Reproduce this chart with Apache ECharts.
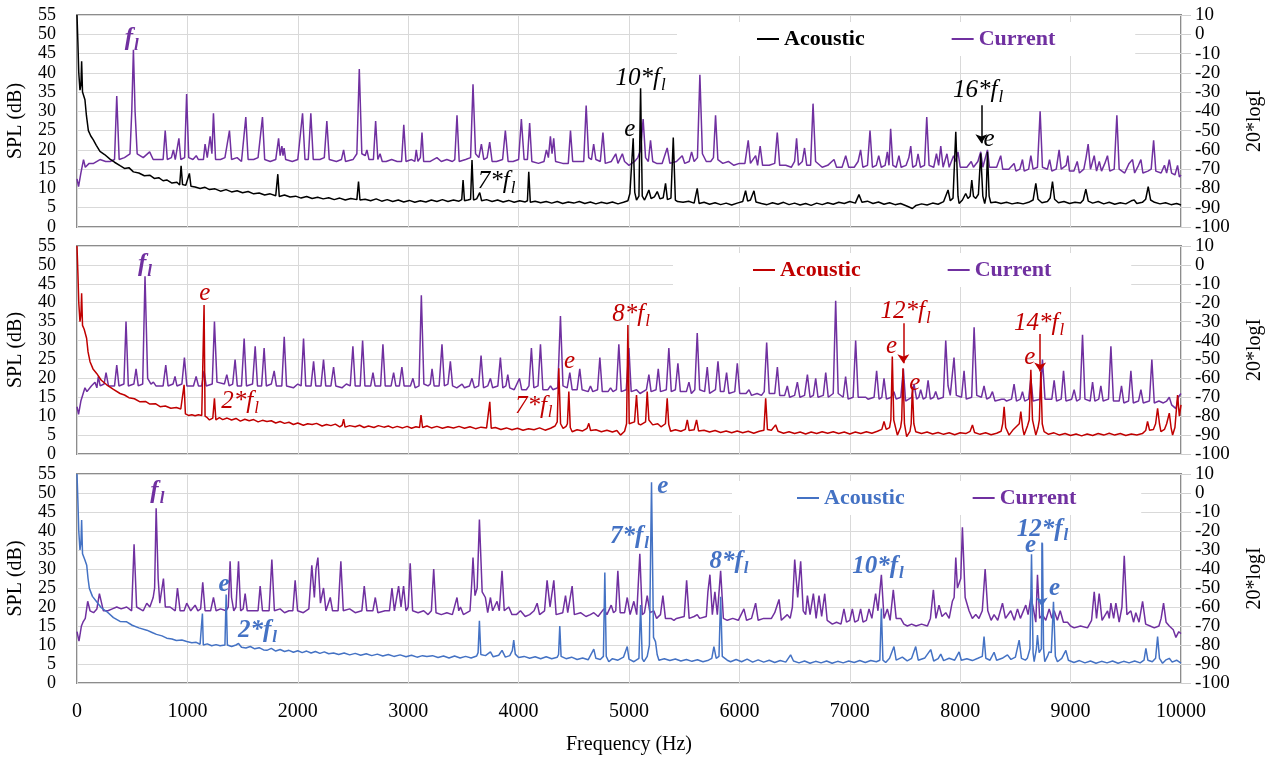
<!DOCTYPE html>
<html>
<head>
<meta charset="utf-8">
<title>Acoustic / current spectra</title>
<script src="https://cdn.jsdelivr.net/npm/echarts@6/dist/echarts.min.js"></script>
<style>
  html, body { margin: 0; padding: 0; background: #fff; }
  #main { width: 1278px; height: 757px; }
</style>
</head>
<body>
<div id="main"></div>
<script>
// acoustic spectra, SPL in dB (left axis)  [frequency Hz, dB]
var acoustic1 = [[0,55],[8,48],[16,40],[27,35.5],[36,37],[42,43],[50,35],[60,34.5],[72,33],[85,29],[103,25],[125,23.6],[148,22.6],[175,21.2],[208,19.6],[250,18.8],[299,17.6],[340,16.8],[390,15.9],[430,15.2],[470,15.4],[511,14.3],[560,14],[610,13.3],[662,13.4],[700,12.6],[740,12.8],[780,12],[813,12.2],[860,11.4],[905,11.6],[930,10.9],[943,15.9],[956,11],[985,10.8],[1018,13.9],[1032,10.6],[1070,10.4],[1115,10],[1160,10.3],[1200,9.7],[1250,9.9],[1300,9.3],[1350,9.7],[1400,9.1],[1450,9.4],[1500,8.9],[1550,9.2],[1600,8.6],[1650,8.8],[1700,8.3],[1750,8.6],[1800,8.1],[1819,13.7],[1832,7.9],[1880,8.3],[1930,7.8],[1980,8],[2030,7.5],[2080,7.9],[2130,7.4],[2180,7.7],[2230,7.3],[2280,7.6],[2330,7.1],[2380,7.5],[2430,7],[2480,7.4],[2535,7.1],[2550,11.8],[2563,7],[2610,7.2],[2660,6.8],[2710,7.3],[2760,6.7],[2810,7.1],[2860,6.6],[2910,7],[2960,6.5],[3010,6.9],[3060,6.4],[3110,6.8],[3160,6.5],[3210,7],[3260,6.6],[3310,7.1],[3360,6.6],[3410,7],[3460,6.7],[3485,7.1],[3497,12.2],[3510,6.8],[3540,7],[3565,7.2],[3578,17.4],[3592,7],[3620,7.3],[3648,8.9],[3665,6.8],[3710,7.1],[3760,6.6],[3810,7],[3860,6.5],[3910,6.9],[3960,6.4],[4010,6.8],[4060,6.5],[4080,6.8],[4092,14.3],[4106,6.4],[4150,6.7],[4200,6.3],[4250,6.6],[4300,6.2],[4350,6.6],[4400,6.1],[4450,6.5],[4500,6.2],[4550,6.6],[4600,6.1],[4650,6.5],[4700,6],[4750,6.4],[4800,6.1],[4850,6.5],[4900,6],[4950,6.4],[4990,6.8],[5008,8.7],[5024,9],[5038,23],[5052,9],[5068,7],[5090,8],[5105,36],[5120,8],[5141,7],[5160,8.2],[5180,9.6],[5200,7.4],[5230,7.8],[5256,9.2],[5280,7.3],[5310,7.6],[5331,11.3],[5348,7.1],[5380,7.5],[5401,23.2],[5420,7],[5440,6.6],[5490,6.4],[5540,6.7],[5590,6.2],[5618,10],[5635,6.1],[5680,6.4],[5730,5.9],[5780,6.3],[5830,5.8],[5880,6.2],[5930,5.7],[5980,6.2],[6030,6.6],[6056,9.4],[6075,6.7],[6100,7],[6132,9.4],[6150,6.5],[6200,6.1],[6250,5.8],[6300,6.3],[6350,5.9],[6400,6.4],[6450,5.8],[6500,6.2],[6550,5.7],[6600,6.1],[6650,5.6],[6700,6.2],[6750,5.8],[6800,6.3],[6850,5.9],[6900,6.4],[6950,6.1],[7000,6.6],[7050,6.2],[7083,8.4],[7110,6.4],[7160,6.7],[7210,6.1],[7260,6.5],[7310,5.9],[7360,6.3],[7410,5.8],[7460,6.1],[7510,5.5],[7567,4.8],[7600,5.6],[7650,6],[7700,5.7],[7750,6.2],[7800,5.9],[7850,6.6],[7890,9.6],[7910,6.8],[7935,7.5],[7960,24.7],[7980,8],[7990,6.1],[8020,7],[8050,8.7],[8070,7.4],[8090,8],[8105,12.2],[8120,8],[8141,7.4],[8165,8.5],[8186,19.1],[8205,8],[8222,6.1],[8235,8],[8247,19.5],[8262,8],[8277,6.3],[8320,6.5],[8370,6.1],[8420,6.4],[8470,6],[8520,6.3],[8570,6],[8620,6.4],[8660,7],[8685,11.3],[8705,7.2],[8740,6.3],[8790,6.6],[8815,7.5],[8836,11.8],[8855,7.2],[8890,6.3],[8940,6.6],[8990,6.1],[9040,6.4],[9090,6.2],[9115,7],[9138,9.8],[9160,6.7],[9200,6.2],[9250,6.6],[9300,6],[9350,6.4],[9400,5.9],[9450,6.3],[9500,6],[9550,6.8],[9576,7],[9600,6.1],[9650,6.4],[9680,7.2],[9703,10.5],[9725,7],[9760,6.4],[9810,6],[9860,6.3],[9910,5.8],[9960,6.1],[10000,5.7]];

var acoustic2 = [[0,55],[8,48],[16,40],[27,35],[36,37],[42,42.5],[50,34],[65,33],[87,30.6],[100,27],[118,24.4],[145,22.5],[178,21.3],[220,19.5],[269,18.3],[330,17.1],[390,16],[430,15.6],[470,14.9],[520,14.6],[571,13.8],[620,13.9],[660,13.2],[710,13.3],[753,12.5],[800,12.7],[850,12.1],[900,12.3],[940,11.9],[958,12],[970,18.3],[982,10.6],[1010,10.2],[1040,10.4],[1070,10.1],[1100,10.4],[1130,10.2],[1143,10.5],[1151,39.4],[1160,10],[1180,9.6],[1200,9],[1230,9.5],[1245,14.7],[1258,9],[1290,9.6],[1320,9.1],[1360,9.5],[1400,9],[1440,9.4],[1480,8.7],[1520,9.2],[1560,8.8],[1600,9.1],[1640,8.5],[1680,8.9],[1720,8.6],[1760,8.8],[1800,8.2],[1840,8.6],[1880,8.1],[1920,8.4],[1960,7.8],[2000,8.2],[2050,7.6],[2090,8],[2130,7.8],[2170,8.1],[2220,7.4],[2260,7.8],[2300,7.5],[2340,7.9],[2380,7.2],[2402,7.6],[2415,9.2],[2428,7.1],[2470,7.5],[2520,7.2],[2560,7.6],[2600,7],[2640,7.4],[2690,7],[2730,7.5],[2780,7.1],[2820,7.4],[2860,6.9],[2900,7.3],[2950,6.9],[2990,7.3],[3030,6.8],[3070,7.2],[3103,7],[3116,10.3],[3130,7],[3170,7.4],[3210,6.9],[3260,7.3],[3310,6.8],[3360,7.2],[3410,6.9],[3460,7.3],[3510,6.8],[3560,7.2],[3610,6.7],[3660,7.1],[3710,6.9],[3726,7.3],[3739,13.8],[3752,6.8],[3790,7],[3840,6.5],[3890,6.9],[3940,6.4],[3990,6.8],[4040,6.3],[4090,6.7],[4140,6.4],[4190,6.9],[4240,6.3],[4290,6.8],[4330,7.4],[4350,8.5],[4364,22.7],[4380,8],[4403,6.8],[4430,7.3],[4442,8],[4455,16.5],[4468,7],[4485,5.9],[4530,6.4],[4580,6.1],[4620,6.8],[4636,8.1],[4652,6.2],[4700,6.4],[4750,5.9],[4800,6.3],[4850,5.8],[4890,6.2],[4923,5],[4960,6],[4978,8],[4990,34.1],[5002,8],[5020,7.7],[5050,8.5],[5068,15.6],[5085,8],[5105,7.7],[5150,8.5],[5165,16.5],[5180,9],[5195,9.4],[5215,7.7],[5260,8],[5290,7.2],[5330,8],[5346,14.7],[5360,7.8],[5377,6],[5420,6.4],[5470,6],[5510,6.5],[5528,9],[5545,6.2],[5590,6.4],[5612,9],[5630,6.1],[5680,6.3],[5730,5.8],[5780,6.2],[5830,5.7],[5880,6.1],[5930,5.6],[5980,6.1],[6030,5.6],[6080,6],[6130,5.5],[6180,6],[6222,6.3],[6238,14.7],[6254,6.5],[6290,6.3],[6328,7.7],[6350,6],[6400,5.5],[6450,5.9],[6500,5.4],[6550,5.8],[6600,5.3],[6650,5.8],[6700,5.4],[6750,5.9],[6800,5.5],[6850,5.9],[6900,5.4],[6950,5.8],[7000,5.3],[7050,5.8],[7100,5.4],[7150,5.9],[7200,5.5],[7250,6],[7290,6.5],[7310,8.6],[7330,6.5],[7360,7],[7372,9],[7385,25.8],[7398,9],[7431,5],[7460,7],[7470,9],[7482,22.7],[7495,8],[7515,4.6],[7545,6],[7556,8],[7567,17.8],[7580,8],[7597,5.9],[7650,5.4],[7700,5.8],[7750,5.3],[7800,5.7],[7850,5.2],[7900,5.6],[7950,5.1],[8000,5.6],[8050,5.4],[8090,6],[8111,7.7],[8130,5.7],[8180,5.2],[8230,5.6],[8280,5.1],[8330,5.5],[8370,6],[8385,8],[8398,12.5],[8412,7],[8443,5],[8482,6.5],[8500,6],[8535,8],[8549,11.2],[8565,7],[8579,5],[8610,7.5],[8625,9],[8640,22.3],[8655,9],[8685,5],[8705,7],[8717,9],[8730,21.8],[8743,8],[8760,5.9],[8800,5.2],[8850,5.6],[8900,5],[8950,5.4],[9000,4.9],[9050,5.3],[9100,4.8],[9150,5.3],[9200,4.9],[9250,5.4],[9300,5],[9350,5.5],[9400,5],[9450,5.4],[9500,4.9],[9550,5.3],[9600,5],[9650,5.4],[9680,6.2],[9697,8.6],[9715,6.3],[9750,6.5],[9770,8],[9788,12.1],[9805,8],[9818,5.9],[9850,6.5],[9870,8],[9894,10.8],[9910,7],[9924,5],[9945,7],[9969,15.6],[9985,10],[10000,13]];

var acoustic3 = [[0,55],[8,48],[16,40],[27,35],[36,37],[42,42.9],[50,34],[57,34],[70,32.5],[88,31],[100,27.5],[112,24.9],[140,22.8],[178,21.4],[220,19.8],[269,18.8],[330,17.2],[390,16.2],[450,16.1],[500,15.2],[560,14.5],[632,13.9],[680,13.3],[720,12.8],[770,12.4],[813,11.8],[860,11.6],[900,11.2],[950,11.3],[994,10.9],[1040,10.6],[1080,10.7],[1115,10.2],[1128,10.5],[1136,18.3],[1144,10],[1180,10.3],[1220,9.8],[1260,10.1],[1296,9.8],[1340,10],[1351,23.3],[1362,10],[1400,9.6],[1440,10],[1463,10.4],[1490,9.4],[1530,9.2],[1570,9.6],[1610,9],[1650,9.3],[1690,8.7],[1720,8.6],[1760,9.1],[1800,8.4],[1840,8.8],[1880,8.3],[1920,8.6],[1960,8.1],[2000,8.5],[2040,8],[2080,8.4],[2120,7.9],[2160,8.3],[2200,7.8],[2240,8.2],[2280,7.7],[2324,7.9],[2370,7.5],[2420,7.9],[2470,7.4],[2520,7.8],[2570,7.3],[2620,7.7],[2670,7.2],[2720,7.6],[2770,7.1],[2820,7.5],[2870,7],[2927,7.4],[2980,6.9],[3030,7.3],[3080,6.8],[3130,7.2],[3169,7],[3220,7.2],[3270,6.7],[3320,7.1],[3370,6.6],[3420,7.1],[3470,6.6],[3520,7],[3570,6.6],[3620,7.1],[3633,8],[3645,16.4],[3658,7.5],[3700,7.2],[3745,8.2],[3770,6.9],[3820,7.3],[3850,8.6],[3880,6.8],[3920,7.2],[3943,8.5],[3956,11.3],[3970,7.6],[4000,6.7],[4050,7],[4100,6.5],[4150,6.9],[4200,6.4],[4250,6.9],[4300,6.4],[4350,6.8],[4362,7.5],[4373,15],[4385,7],[4430,6.4],[4480,6.8],[4530,6.2],[4580,6.6],[4630,6.1],[4681,8.9],[4700,6.5],[4740,6.2],[4768,7],[4781,29.1],[4794,7],[4817,5.6],[4850,6.4],[4900,6],[4950,6.8],[4984,9.6],[5000,6.3],[5044,5.6],[5090,6.5],[5105,20.5],[5120,6.4],[5135,5.6],[5165,7],[5185,10],[5204,52.8],[5222,12],[5240,10.9],[5255,7.5],[5271,6],[5320,6.4],[5370,5.9],[5420,6.3],[5470,5.8],[5520,6.2],[5570,5.7],[5620,6.1],[5670,5.6],[5720,6],[5750,6.5],[5769,9.6],[5790,6.5],[5815,7],[5830,22.7],[5845,7],[5860,7.4],[5890,6],[5920,5.6],[5970,6.2],[6020,5.6],[6070,6.3],[6120,5.5],[6170,6.1],[6220,5.5],[6270,6],[6320,5.4],[6370,5.9],[6420,5.5],[6464,7.4],[6490,5.8],[6540,5.3],[6590,5.8],[6640,5.2],[6690,5.7],[6740,5.3],[6790,5.8],[6840,5.2],[6890,5.7],[6940,5.3],[6990,5.8],[7040,5.4],[7090,5.9],[7140,5.4],[7190,5.9],[7240,5.6],[7272,6],[7286,19.6],[7300,6],[7325,5.4],[7360,6.5],[7400,9.6],[7420,6],[7476,6.8],[7520,5.8],[7560,6.5],[7597,9.6],[7620,6],[7680,6.6],[7733,8.8],[7760,5.8],[7800,6.4],[7824,7.6],[7850,5.9],[7900,6.5],[7950,6],[7990,8.2],[8010,6],[8060,6.4],[8110,5.9],[8160,6.5],[8200,7],[8216,12.2],[8232,6.5],[8270,6],[8307,8.1],[8330,6],[8380,6.5],[8428,7.4],[8460,6.2],[8500,6.8],[8534,11.3],[8555,6.5],[8590,6],[8609,6.6],[8632,9],[8646,33.9],[8660,8],[8670,5.6],[8690,9],[8700,12.6],[8715,8],[8735,9],[8745,36.8],[8755,9],[8766,5.6],[8790,7],[8806,8.2],[8825,8],[8845,21.4],[8862,7],[8881,5.6],[8920,6.5],[8957,8.6],[8980,6],[9030,5.4],[9080,5.9],[9130,5.3],[9180,5.8],[9230,5.2],[9280,5.7],[9330,5.3],[9380,5.8],[9430,5.2],[9480,5.7],[9530,5.3],[9580,5.8],[9630,5.3],[9665,6],[9682,9.1],[9700,6],[9740,5.6],[9770,6.5],[9788,12.2],[9805,6.5],[9833,5.2],[9860,6],[9894,6.5],[9920,5.5],[9960,6],[10000,5.2]];

// current spectra, 20*logI (right axis)  [frequency Hz, 20*logI]
var current1 = [[0,-75],[14,-79],[35,-72],[59,-65],[75,-69],[110,-67],[150,-67],[208,-65],[260,-66],[300,-66],[340,-65],[360,-32],[382,-65],[430,-64],[480,-62],[496,-40],[511,-8],[526,-40],[545,-62],[600,-64],[658,-61],[690,-65],[740,-65],[780,-65],[799,-50],[818,-65],[855,-64],[873,-60],[890,-65],[923,-54],[940,-65],[975,-64],[993,-31],[1012,-64],[1050,-65],[1080,-63],[1100,-65],[1145,-65],[1160,-57],[1180,-64],[1206,-53],[1222,-62],[1236,-41],[1255,-65],[1300,-65],[1340,-64],[1381,-50],[1400,-65],[1450,-64],[1490,-66],[1529,-43],[1550,-65],[1600,-65],[1640,-64],[1680,-43],[1700,-65],[1750,-66],[1800,-65],[1826,-54],[1840,-63],[1856,-58],[1866,-63],[1876,-59],[1890,-65],[1950,-66],[2000,-65],[2043,-41],[2065,-65],[2095,-65],[2118,-41],[2140,-65],[2200,-65],[2240,-64],[2263,-45],[2285,-65],[2350,-66],[2395,-65],[2415,-60],[2432,-66],[2500,-65],[2535,-62],[2557,-18],[2580,-62],[2610,-63],[2626,-60],[2645,-65],[2685,-65],[2705,-45],[2725,-65],[2745,-62],[2765,-66],[2800,-66],[2850,-65],[2900,-66],[2940,-66],[2960,-47],[2980,-66],[3030,-65],[3060,-66],[3073,-60],[3088,-66],[3110,-64],[3125,-51],[3140,-66],[3200,-66],[3260,-64],[3300,-66],[3350,-65],[3400,-66],[3422,-65],[3442,-42],[3462,-66],[3520,-65],[3565,-64],[3587,-26],[3610,-62],[3640,-64],[3663,-57],[3685,-65],[3715,-64],[3738,-56],[3760,-66],[3800,-66],[3855,-65],[3880,-50],[3905,-66],[3950,-66],[4000,-65],[4025,-44],[4050,-65],[4080,-65],[4100,-46],[4120,-66],[4180,-67],[4230,-66],[4252,-60],[4270,-64],[4288,-53],[4303,-62],[4318,-54],[4335,-66],[4400,-67],[4450,-67],[4470,-50],[4490,-66],[4540,-66],[4590,-66],[4612,-37],[4635,-64],[4660,-65],[4680,-57],[4700,-65],[4740,-66],[4764,-51],[4785,-67],[4840,-66],[4880,-62],[4900,-67],[4940,-62],[4960,-66],[5000,-68],[5050,-66],[5080,-64],[5105,-60],[5128,-44],[5150,-64],[5175,-66],[5195,-55],[5215,-66],[5250,-67],[5300,-67],[5346,-59],[5370,-67],[5430,-66],[5482,-63],[5505,-67],[5545,-66],[5567,-61],[5590,-66],[5620,-64],[5642,-21],[5665,-62],[5700,-66],[5740,-66],[5765,-64],[5784,-42],[5805,-65],[5850,-67],[5900,-66],[5950,-68],[6000,-67],[6050,-67],[6080,-55],[6100,-67],[6147,-63],[6165,-68],[6188,-58],[6210,-68],[6270,-68],[6320,-67],[6343,-51],[6365,-68],[6420,-68],[6470,-69],[6500,-66],[6518,-54],[6535,-68],[6570,-66],[6590,-59],[6610,-68],[6645,-68],[6667,-36],[6690,-66],[6750,-69],[6800,-68],[6857,-65],[6880,-69],[6930,-69],[6963,-63],[6990,-69],[7040,-69],[7075,-66],[7098,-60],[7118,-69],[7160,-68],[7183,-50],[7205,-69],[7240,-68],[7262,-63],[7285,-69],[7320,-68],[7340,-61],[7355,-68],[7370,-49],[7390,-68],[7420,-69],[7445,-63],[7465,-69],[7510,-68],[7535,-64],[7552,-58],[7570,-69],[7600,-68],[7618,-62],[7640,-69],[7677,-68],[7697,-43],[7718,-68],[7760,-69],[7785,-62],[7805,-68],[7824,-58],[7845,-69],[7880,-62],[7900,-69],[7940,-63],[7960,-66],[7980,-61],[8000,-69],[8060,-69],[8100,-66],[8120,-69],[8160,-66],[8186,-61],[8205,-69],[8247,-60],[8265,-69],[8330,-69],[8367,-63],[8385,-70],[8440,-70],[8488,-67],[8505,-71],[8540,-70],[8564,-65],[8580,-71],[8620,-70],[8640,-63],[8660,-70],[8700,-69],[8724,-40],[8745,-69],[8790,-70],[8810,-65],[8830,-71],[8870,-70],[8896,-60],[8915,-70],[8960,-68],[8975,-63],[8990,-71],[9030,-71],[9060,-66],[9080,-72],[9120,-70],[9140,-64],[9159,-57],[9180,-70],[9214,-63],[9235,-71],[9260,-66],[9280,-71],[9310,-67],[9334,-63],[9355,-71],[9395,-70],[9419,-42],[9440,-70],[9490,-72],[9530,-67],[9561,-65],[9580,-72],[9615,-68],[9637,-65],[9655,-72],[9700,-71],[9730,-70],[9752,-55],[9772,-71],[9820,-72],[9850,-68],[9870,-72],[9894,-65],[9915,-72],[9945,-73],[9969,-68],[9985,-74],[10000,-73]];

var current2 = [[0,-75],[14,-79],[35,-72],[72,-65],[90,-67],[130,-64],[163,-62],[180,-65],[193,-59],[210,-64],[245,-63],[263,-57],[285,-64],[340,-64],[360,-53],[380,-64],[425,-63],[444,-30],[465,-64],[515,-63],[535,-55],[555,-64],[595,-63],[616,-6],[640,-60],[670,-63],[692,-62],[715,-64],[780,-64],[804,-53],[825,-64],[870,-63],[888,-59],[905,-64],[950,-63],[973,-49],[995,-64],[1055,-64],[1079,-59],[1100,-64],[1130,-64],[1151,-56],[1170,-64],[1225,-63],[1245,-30],[1268,-62],[1335,-63],[1357,-58],[1378,-64],[1410,-63],[1432,-50],[1452,-64],[1490,-64],[1514,-39],[1535,-64],[1590,-63],[1614,-43],[1635,-64],[1672,-64],[1695,-44],[1715,-64],[1760,-63],[1786,-56],[1806,-64],[1855,-64],[1877,-38],[1898,-64],[1960,-65],[2000,-63],[2030,-64],[2052,-39],[2072,-64],[2120,-64],[2143,-51],[2163,-64],[2210,-64],[2233,-50],[2253,-64],[2300,-64],[2324,-54],[2344,-64],[2400,-65],[2440,-63],[2475,-64],[2499,-43],[2520,-64],[2565,-64],[2587,-40],[2608,-64],[2660,-64],[2681,-57],[2700,-64],[2750,-64],[2771,-42],[2792,-64],[2845,-64],[2868,-57],[2888,-64],[2920,-64],[2943,-54],[2963,-64],[3020,-64],[3043,-60],[3063,-65],[3098,-64],[3119,-16],[3142,-63],[3180,-64],[3200,-63],[3216,-55],[3235,-64],[3280,-64],[3306,-42],[3328,-64],[3360,-63],[3382,-51],[3402,-64],[3440,-65],[3488,-63],[3510,-65],[3555,-64],[3578,-60],[3600,-65],[3638,-64],[3660,-48],[3682,-65],[3720,-64],[3745,-60],[3765,-65],[3812,-64],[3835,-49],[3857,-65],[3885,-64],[3902,-58],[3920,-65],[3960,-66],[4008,-60],[4028,-66],[4070,-66],[4094,-64],[4116,-44],[4138,-65],[4176,-64],[4198,-42],[4220,-66],[4265,-66],[4289,-64],[4310,-66],[4355,-65],[4379,-27],[4402,-64],[4440,-65],[4464,-57],[4485,-66],[4530,-66],[4554,-55],[4575,-66],[4630,-67],[4651,-64],[4672,-67],[4715,-66],[4736,-49],[4758,-67],[4810,-67],[4833,-65],[4855,-67],[4886,-66],[4908,-42],[4930,-67],[4975,-66],[4999,-44],[5020,-67],[5068,-66],[5100,-68],[5158,-66],[5180,-58],[5200,-67],[5245,-66],[5265,-55],[5285,-67],[5338,-66],[5361,-44],[5383,-67],[5420,-66],[5443,-52],[5465,-67],[5520,-67],[5543,-62],[5565,-68],[5596,-66],[5618,-36],[5640,-66],[5685,-67],[5709,-54],[5730,-68],[5783,-66],[5806,-51],[5828,-67],[5860,-67],[5884,-57],[5905,-68],[5958,-67],[5981,-52],[6003,-68],[6060,-68],[6087,-66],[6110,-69],[6160,-68],[6200,-69],[6225,-67],[6247,-41],[6270,-68],[6320,-68],[6344,-54],[6365,-69],[6410,-69],[6434,-64],[6455,-70],[6500,-69],[6525,-62],[6548,-70],[6590,-69],[6616,-58],[6640,-70],[6670,-69],[6691,-60],[6712,-70],[6760,-69],[6782,-57],[6805,-70],[6850,-68],[6872,-19],[6895,-68],[6940,-70],[6962,-59],[6985,-71],[7030,-70],[7053,-40],[7076,-70],[7120,-70],[7144,-70],[7165,-71],[7220,-70],[7243,-56],[7265,-71],[7290,-70],[7310,-60],[7332,-71],[7375,-70],[7400,-67],[7420,-71],[7462,-70],[7485,-55],[7505,-72],[7560,-70],[7582,-63],[7605,-71],[7625,-70],[7642,-66],[7665,-71],[7690,-70],[7709,-61],[7730,-71],[7760,-70],[7778,-67],[7800,-71],[7847,-70],[7869,-40],[7890,-64],[7910,-69],[7944,-49],[7965,-69],[8012,-70],[8035,-56],[8055,-71],[8104,-70],[8126,-33],[8150,-69],[8192,-70],[8216,-64],[8240,-71],[8270,-70],[8292,-67],[8315,-72],[8375,-71],[8398,-71],[8420,-72],[8465,-71],[8488,-63],[8510,-72],[8545,-71],[8564,-67],[8585,-72],[8620,-71],[8640,-60],[8660,-72],[8722,-71],[8745,-50],[8768,-71],[8830,-71],[8851,-61],[8873,-72],[8915,-71],[8936,-56],[8958,-72],[9010,-71],[9032,-66],[9055,-72],[9085,-71],[9108,-37],[9130,-71],[9177,-72],[9199,-62],[9220,-72],[9255,-71],[9274,-64],[9295,-72],[9343,-71],[9365,-43],[9388,-72],[9440,-72],[9461,-64],[9482,-73],[9525,-72],[9546,-56],[9568,-73],[9615,-72],[9637,-66],[9658,-73],[9714,-72],[9736,-50],[9758,-73],[9800,-72],[9818,-71],[9840,-73],[9870,-72],[9894,-70],[9915,-74],[9954,-76],[9975,-70],[10000,-68]];

var current3 = [[0,-73],[18,-78],[40,-70],[54,-68],[75,-66],[97,-57],[118,-62],[150,-63],[180,-61],[203,-53],[239,-62],[280,-62],[320,-61],[360,-60],[400,-61],[450,-60],[495,-62],[517,-27],[540,-60],[556,-59],[600,-62],[632,-58],[660,-60],[690,-55],[703,-50],[717,-8],[735,-45],[750,-58],[783,-45],[800,-60],[843,-60],[890,-62],[910,-50],[934,-62],[970,-62],[994,-58],[1030,-62],[1070,-59],[1095,-62],[1120,-61],[1139,-47],[1160,-62],[1210,-62],[1236,-55],[1260,-62],[1300,-61],[1350,-62],[1370,-60],[1387,-36],[1400,-55],[1420,-62],[1440,-60],[1463,-36],[1482,-62],[1505,-61],[1523,-53],[1542,-62],[1600,-62],[1640,-62],[1659,-49],[1680,-62],[1740,-62],[1765,-35],[1788,-62],[1840,-61],[1880,-63],[1920,-62],[1955,-62],[1976,-46],[1998,-62],[2050,-63],[2100,-61],[2127,-38],[2150,-55],[2165,-40],[2182,-34],[2205,-58],[2233,-50],[2255,-62],[2294,-55],[2315,-62],[2365,-62],[2390,-36],[2412,-62],[2470,-61],[2520,-63],[2580,-62],[2602,-49],[2625,-62],[2680,-62],[2702,-55],[2725,-63],[2790,-62],[2830,-62],[2853,-50],[2875,-62],[2913,-49],[2935,-60],[2958,-49],[2980,-62],[3000,-60],[3018,-37],[3040,-62],[3090,-63],[3140,-62],[3180,-64],[3210,-62],[3231,-40],[3252,-63],[3300,-64],[3350,-63],[3400,-64],[3442,-55],[3458,-62],[3473,-60],[3500,-64],[3560,-62],[3575,-48],[3587,-34],[3605,-54],[3625,-50],[3645,-14],[3670,-52],[3699,-55],[3720,-63],[3745,-55],[3765,-62],[3805,-57],[3825,-62],[3850,-41],[3870,-62],[3911,-60],[3940,-64],[3980,-64],[4017,-62],[4060,-65],[4100,-64],[4140,-62],[4168,-58],[4190,-64],[4235,-62],[4258,-46],[4285,-60],[4319,-46],[4340,-64],[4400,-63],[4425,-54],[4445,-63],[4485,-49],[4505,-64],[4561,-63],[4610,-65],[4650,-64],[4681,-63],[4720,-65],[4772,-61],[4800,-64],[4839,-59],[4860,-63],[4880,-62],[4899,-41],[4920,-63],[4960,-63],[4984,-55],[5010,-64],[5044,-57],[5070,-64],[5098,-32],[5120,-64],[5140,-63],[5165,-54],[5190,-63],[5225,-62],[5250,-66],[5285,-64],[5307,-54],[5330,-66],[5380,-66],[5407,-67],[5430,-66],[5500,-65],[5522,-46],[5545,-66],[5590,-65],[5618,-64],[5640,-66],[5700,-65],[5715,-52],[5733,-43],[5755,-64],[5778,-52],[5800,-64],[5830,-41],[5855,-66],[5890,-67],[5940,-66],[5990,-67],[6041,-61],[6065,-67],[6110,-66],[6147,-58],[6170,-67],[6220,-66],[6253,-66],[6290,-66],[6320,-63],[6359,-56],[6380,-67],[6434,-64],[6460,-66],[6480,-60],[6501,-35],[6528,-55],[6555,-36],[6578,-62],[6600,-64],[6616,-54],[6640,-64],[6670,-53],[6695,-66],[6721,-54],[6745,-65],[6773,-53],[6795,-67],[6842,-69],[6880,-68],[6920,-69],[6947,-61],[6970,-68],[7000,-67],[7023,-61],[7045,-68],[7075,-67],[7098,-61],[7120,-68],[7150,-67],[7174,-61],[7200,-66],[7234,-53],[7255,-62],[7286,-43],[7310,-66],[7340,-61],[7365,-67],[7394,-51],[7420,-66],[7461,-66],[7490,-69],[7521,-70],[7560,-69],[7600,-70],[7650,-69],[7703,-70],[7730,-66],[7757,-51],[7780,-66],[7808,-59],[7835,-65],[7869,-63],[7900,-66],[7929,-57],[7945,-55],[7960,-34],[7975,-50],[7990,-50],[8005,-45],[8020,-18],[8045,-55],[8080,-62],[8110,-66],[8141,-64],[8170,-66],[8200,-62],[8226,-40],[8250,-62],[8280,-67],[8307,-64],[8340,-67],[8383,-58],[8410,-66],[8458,-62],[8490,-67],[8519,-61],[8545,-66],[8594,-59],[8615,-64],[8640,-55],[8660,-60],[8685,-68],[8700,-43],[8720,-66],[8745,-64],[8775,-67],[8806,-61],[8830,-66],[8851,-62],[8880,-67],[8906,-62],[8935,-68],[8972,-68],[9000,-70],[9032,-71],[9090,-70],[9153,-71],[9190,-67],[9214,-52],[9235,-66],[9259,-53],[9285,-67],[9335,-62],[9350,-66],[9365,-58],[9390,-66],[9410,-58],[9440,-68],[9465,-60],[9486,-33],[9510,-64],[9546,-62],[9570,-68],[9591,-63],[9620,-68],[9652,-57],[9680,-69],[9720,-70],[9758,-71],[9800,-70],[9820,-66],[9842,-58],[9865,-68],[9894,-70],[9930,-72],[9954,-76],[9980,-73],[10000,-74]];

// annotations: [text, subscript, frequency, dB, 'c' = current colour / 'a' = acoustic colour]
var notes1 = [['f','l',496,48.9,'c'],['10*f','l',5105,38.6,'a'],['e','',5008,25.2,'a'],['7*f','l',3800,11.8,'a'],['16*f','l',8162,35.4,'a'],['e','',8262,22.7,'a']];
var notes2 = [['f','l',616,50,'c'],['e','',1158,42.5,'a'],['2*f','l',1478,14,'a'],['7*f','l',4137,12.7,'a'],['e','',4461,24.4,'a'],['8*f','l',5020,37,'a'],['12*f','l',7506,37.8,'a'],['e','',7379,28.4,'a'],['e','',7588,18.7,'a'],['14*f','l',8715,34.6,'a'],['e','',8630,25.6,'a']];
var notes3 = [['f','l',728,50.3,'c'],['e','',1332,25.8,'a'],['2*f','l',1635,13.7,'a'],['7*f','l',5005,38.5,'a'],['e','',5307,51.7,'a'],['8*f','l',5905,31.9,'a'],['10*f','l',7255,30.6,'a'],['12*f','l',8745,40.5,'a'],['e','',8637,36.1,'a'],['e','',8854,24.9,'a']];
// arrows: [frequency, dB from, dB to]
var arrows1 = [[8192,31.6,21.7]];
var arrows2 = [[7485,34.6,24],[8724,31.7,21.8]];
var arrows3 = [[8739,37,20.1]];

var serif = '"Liberation Serif", "DejaVu Serif", serif';
var purple = '#7030a0';

var panels = [
  { acoustic: acoustic1, current: current1, color: '#000000', notes: notes1, arrows: arrows1, top: 15, height: 212, bold: 'normal', legendLeft: 677, gap: 87, pad: 80 },
  { acoustic: acoustic2, current: current2, color: '#c00000', notes: notes2, arrows: arrows2, top: 246, height: 208, bold: 'normal', legendLeft: 673, gap: 87, pad: 80 },
  { acoustic: acoustic3, current: current3, color: '#4472c4', notes: notes3, arrows: arrows3, top: 474, height: 209, bold: 'bold', legendLeft: 732, gap: 68, pad: 65 }
];

var chart = echarts.init(document.getElementById('main'));

var grids = [], xAxes = [], yAxes = [], series = [], legends = [];

panels.forEach(function (p, i) {
  var last = i === panels.length - 1;
  grids.push({
    left: 77, top: p.top, width: 1104, height: p.height,
    containLabel: false, outerBoundsMode: 'none',
    show: true, borderColor: '#8c8c8c', borderWidth: 2
  });
  xAxes.push({
    type: 'value', gridIndex: i, min: 0, max: 10000, interval: 1000,
    axisLine: { show: false }, axisTick: { show: false },
    axisLabel: {
      show: last, color: '#000', fontFamily: serif, fontSize: 20, margin: 19,
      showMinLabel: true, showMaxLabel: true,
      formatter: function (v) { return String(v); }
    },
    splitLine: { show: true, lineStyle: { color: '#d9d9d9', width: 1 } },
    name: last ? 'Frequency (Hz)' : '', nameLocation: 'middle', nameGap: 52,
    nameTextStyle: { color: '#000', fontFamily: serif, fontSize: 20 }
  });
  yAxes.push({
    type: 'value', gridIndex: i, min: 0, max: 55, interval: 5, position: 'left',
    axisLine: { show: false }, axisTick: { show: false },
    axisLabel: {
      color: '#000', fontFamily: serif, fontSize: 18, margin: 21, lineHeight: 16,
      showMinLabel: true, showMaxLabel: true, hideOverlap: false
    },
    splitLine: { show: true, lineStyle: { color: '#d9d9d9', width: 1 } },
    name: 'SPL (dB)', nameLocation: 'middle', nameGap: 51, nameRotate: 90,
    nameTextStyle: { color: '#000', fontFamily: serif, fontSize: 20 }
  });
  yAxes.push({
    type: 'value', gridIndex: i, min: -100, max: 10, interval: 10, position: 'right',
    axisLine: { show: false },
    axisTick: { show: true, length: 10, lineStyle: { color: '#cfcfcf' } },
    axisLabel: {
      color: '#000', fontFamily: serif, fontSize: 19, margin: 14, lineHeight: 16,
      showMinLabel: true, showMaxLabel: true, hideOverlap: false
    },
    splitLine: { show: false },
    name: '20*logI', nameLocation: 'middle', nameGap: 64, nameRotate: 90,
    nameTextStyle: { color: '#000', fontFamily: serif, fontSize: 20 }
  });

  var aName = 'Acoustic' + (i + 1), cName = 'Current' + (i + 1);

  series.push({
    name: cName, type: 'line', xAxisIndex: i, yAxisIndex: i * 2 + 1,
    data: p.current, showSymbol: false, symbol: 'none',
    lineStyle: { color: purple, width: 1.5 }, itemStyle: { color: purple }
  });

  var pointData = p.notes.map(function (n) {
    var col = n[4] === 'c' ? purple : p.color;
    var w = (n[4] === 'c' || p.bold === 'bold') ? 'bold' : 'normal';
    return {
      coord: [n[2], n[3]],
      label: {
        formatter: n[1] ? '{m|' + n[0] + '}{s|' + n[1] + '}' : '{m|' + n[0] + '}',
        rich: {
          m: { fontFamily: serif, fontStyle: 'italic', fontWeight: w, fontSize: 25, color: col },
          s: { fontFamily: serif, fontStyle: 'italic', fontWeight: w, fontSize: 17, color: col, padding: [14, 0, 0, 1] }
        }
      }
    };
  });

  series.push({
    name: aName, type: 'line', xAxisIndex: i, yAxisIndex: i * 2,
    data: p.acoustic, showSymbol: false, symbol: 'none',
    lineStyle: { color: p.color, width: 1.5 }, itemStyle: { color: p.color },
    markPoint: {
      symbol: 'circle', symbolSize: 0, silent: true, animation: false,
      label: { show: true, position: 'inside' },
      data: pointData
    },
    markLine: {
      silent: true, animation: false, symbol: ['none', 'arrow'], symbolSize: 9,
      lineStyle: { color: p.color, width: 1.5, type: 'solid' },
      label: { show: false },
      data: p.arrows.map(function (a) {
        return [{ coord: [a[0], a[1]] }, { coord: [a[0], a[2]] }];
      })
    }
  });

  legends.push({
    left: p.legendLeft, top: p.top + 7,
    padding: [6, p.pad, 6, p.pad], backgroundColor: '#ffffff',
    itemGap: p.gap, itemWidth: 22, itemHeight: 2, icon: 'rect',
    formatter: function (name) { return name.replace(/\d$/, ''); },
    textStyle: { fontFamily: serif, fontSize: 22, fontWeight: 'bold' },
    data: [
      { name: aName, textStyle: { color: p.color } },
      { name: cName, textStyle: { color: purple } }
    ]
  });
});

chart.setOption({
  animation: false,
  backgroundColor: '#ffffff',
  grid: grids,
  xAxis: xAxes,
  yAxis: yAxes,
  legend: legends,
  series: series
});
</script>
</body>
</html>
